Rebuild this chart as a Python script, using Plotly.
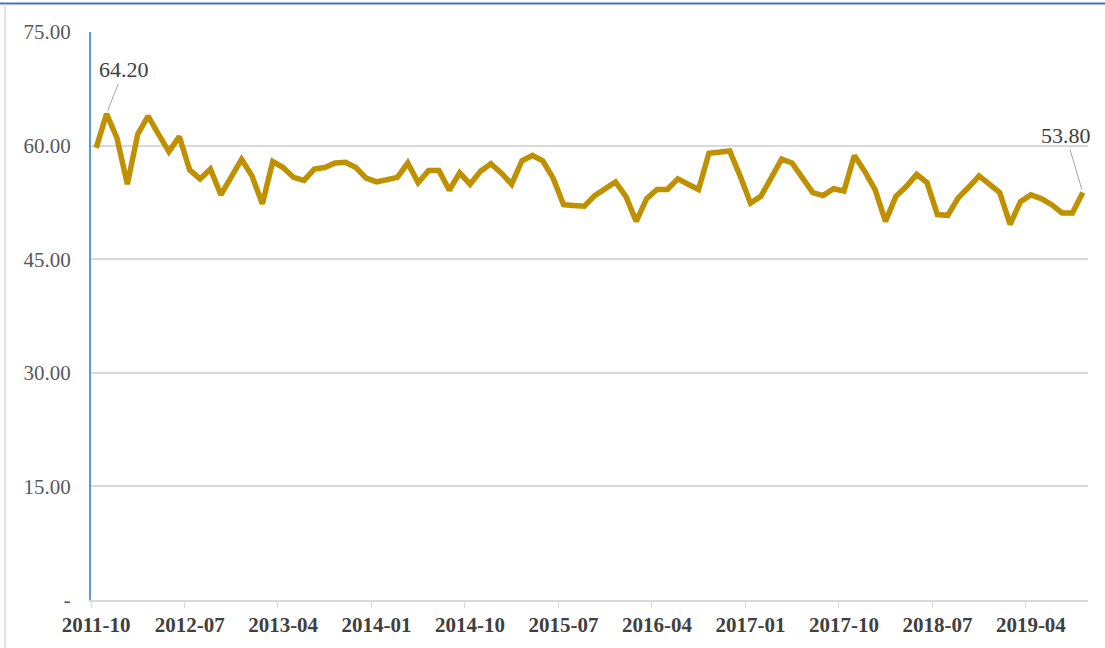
import pandas as pd
import plotly.graph_objects as go

# Monthly index, Oct 2011 - Sep 2019
months = [p.strftime("%Y-%m") for p in pd.period_range("2011-10", "2019-09", freq="M")]

values = [
    59.7, 64.2, 61.0, 54.9, 61.5, 63.9, 61.5, 59.2, 61.2, 56.8,
    55.6, 56.9, 53.5, 56.0, 58.2, 56.0, 52.3, 57.9, 57.1, 55.8,
    55.4, 56.9, 57.1, 57.7, 57.8, 57.1, 55.7, 55.2, 55.5, 55.8,
    57.7, 55.1, 56.7, 56.7, 54.1, 56.4, 54.9, 56.6, 57.6, 56.4,
    54.9, 58.0, 58.7, 58.0, 55.7, 52.2, 52.1, 52.0, 53.4, 54.3,
    55.2, 53.3, 50.0, 53.0, 54.2, 54.2, 55.6, 54.9, 54.2, 59.0,
    59.2, 59.3, 56.0, 52.4, 53.3, 55.7, 58.2, 57.7, 55.7, 53.8,
    53.4, 54.3, 54.0, 58.7, 56.6, 54.2, 50.0, 53.3, 54.6, 56.2,
    55.1, 50.9, 50.8, 53.1, 54.5, 56.0, 54.9, 53.8, 49.6, 52.6,
    53.5, 53.0, 52.2, 51.1, 51.1, 53.8,
]

y_ticks = [0, 15, 30, 45, 60, 75]
y_ticktext = ["-", "15.00", "30.00", "45.00", "60.00", "75.00"]

LINE = "#BF9000"
SERIF = "Liberation Serif"

fig = go.Figure()
fig.add_trace(go.Scatter(
    x=months, y=values, mode="lines",
    line=dict(color=LINE, width=5.5),
    hoverinfo="x+y", showlegend=False,
))

# value labels on the peak and the latest month
peak_i = 1
last_i = len(values) - 1
for i, ax, ay in [(peak_i, 17, -44), (last_i, -17, -57)]:
    fig.add_annotation(
        x=months[i], y=values[i], text=f"{values[i]:.2f}",
        showarrow=True, arrowhead=0, arrowwidth=1, arrowcolor="#a6a6a6",
        ax=ax, ay=ay, standoff=3,
        font=dict(family=SERIF, size=22, color="#404040"),
    )

# frame lines around the chart
fig.add_shape(type="line", xref="paper", yref="paper",
              x0=-91 / 997, x1=(1105 - 91) / 997, y0=1 + 28.5 / 568, y1=1 + 28.5 / 568,
              line=dict(color="#4472c4", width=2))
fig.add_shape(type="line", xref="paper", yref="paper",
              x0=-86 / 997, x1=-86 / 997, y0=-48 / 568, y1=1 + 28 / 568,
              line=dict(color="#d9d9d9", width=1.5))

fig.update_layout(
    width=1105, height=648,
    margin=dict(l=91, r=17, t=32, b=48),
    paper_bgcolor="white", plot_bgcolor="white",
    font=dict(family=SERIF),
    xaxis=dict(
        type="category", range=[-0.5, len(months) - 0.5],
        tickmode="linear", tick0=0, dtick=9, tickangle=0, automargin=False,
        tickson="boundaries", ticks="outside", ticklen=6, tickcolor="#d9d9d9",
        ticklabelstandoff=5,
        showgrid=False, showline=True, linecolor="#d9d9d9", linewidth=1.5,
        tickfont=dict(family=SERIF, size=21, color="#404040", weight="bold"),
        zeroline=False,
    ),
    yaxis=dict(
        range=[0, 75], tickvals=y_ticks, ticktext=y_ticktext, automargin=False,
        showgrid=True, gridcolor="#d9d9d9", gridwidth=1.5,
        showline=True, linecolor="#5b9bd5", linewidth=2,
        ticks="", ticklabelstandoff=14,
        tickfont=dict(family=SERIF, size=21, color="#595959"),
        zeroline=False,
    ),
)

fig.write_html("out.html")
